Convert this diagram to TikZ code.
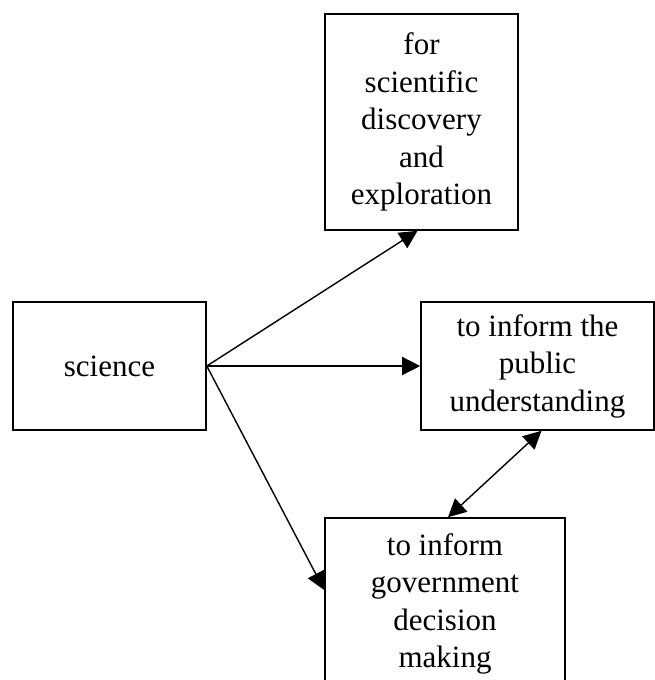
\documentclass[tikz,border=0pt]{standalone}
\usepackage{fontspec}
\setmainfont{Liberation Serif}
\usepackage{tikz}
\usetikzlibrary{arrows.meta, positioning, calc}

\begin{document}
\begin{tikzpicture}[x=1pt, y=-1pt,
    box/.style={draw=black, line width=1.6pt, align=center, inner sep=0pt, font=\fontsize{31}{37.5}\selectfont},
    arr/.style={-{Triangle[length=18pt, width=18pt]}, line width=1.4pt},
    dblarr/.style={{Triangle[length=18pt, width=18pt]}-{Triangle[length=18pt, width=18pt]}, line width=1.4pt}]
    \clip (0,0) rectangle (655,680);
    % boxes
    \node[box, minimum width=193pt, minimum height=128pt] (sci) at (109.5,366) {science};
    \node[box, minimum width=193pt, minimum height=216pt] (disc) at (421.5,122) {for\\scientific\\discovery\\and\\exploration};
    \node[box, minimum width=233pt, minimum height=128pt] (pub) at (537.5,366) {to inform the\\public\\understanding};
    \node[box, minimum width=240pt, minimum height=172pt] (gov) at (445,604) {to inform\\government\\decision\\making};
    % connectors
    \draw[arr] (sci.east) -- ([xshift=-4pt]disc.south);
    \draw[arr] (sci.east) -- (pub.west);
    \draw[arr] (sci.east) -- ([yshift=14pt]gov.west);
    \draw[dblarr] ([xshift=4pt]pub.south) -- ([xshift=3pt]gov.north);
\end{tikzpicture}
\end{document}
